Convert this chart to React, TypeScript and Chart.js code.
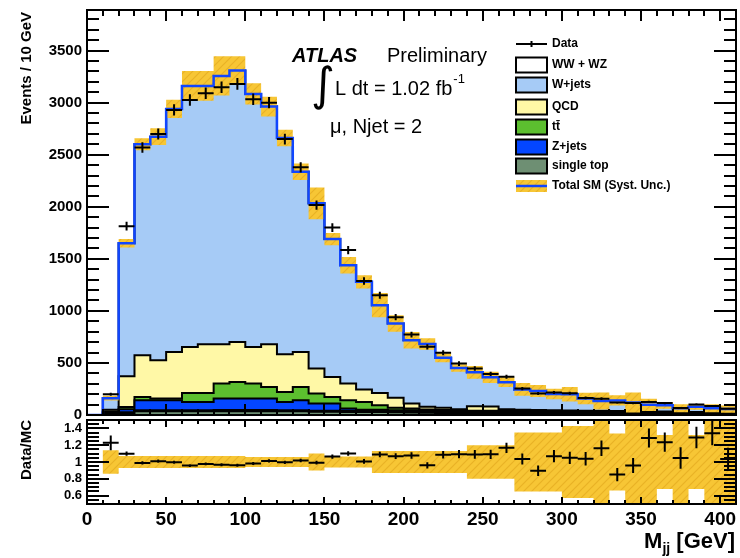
import React, { useEffect, useRef } from 'react';
import { Chart, registerables } from 'chart.js';

Chart.register(...registerables);

// ---------------- data ----------------
const binLowEdges = [0, 10, 20, 30, 40, 50, 60, 70, 80, 90, 100, 110, 120, 130, 140, 150, 160, 170, 180, 190, 200,
  210, 220, 230, 240, 250, 260, 270, 280, 290, 300, 310, 320, 330, 340, 350, 360, 370, 380, 390, 400];
const histUpperEdge = 410;
const binHalfWidth = 5;

const dataCounts: (number | null)[] = [null, 199, 1814, 2570, 2699, 2930, 3026, 3090, 3148, 3180, 3033, 3000, 2650, 2379,
  2016, 1800, 1584, 1288, 1150, 940, 773, 655, 598, 494, 447, 395, 368, 254, 207, 216, 209, 164, 157, 119, 115, 126,
  115, 67, 102, 86, 59];

const singleTop = [0, 8, 12, 35, 35, 35, 35, 35, 35, 35, 35, 35, 35, 35, 32, 32, 30, 28, 28, 26, 25, 22, 20, 20, 18, 18,
  16, 15, 15, 14, 14, 13, 12, 12, 11, 10, 10, 9, 9, 8, 8];
const wwwz = [0, 10, 15, 10, 10, 10, 10, 10, 12, 12, 12, 12, 10, 10, 10, 10, 10, 10, 10, 10, 10, 10, 10, 10, 10, 10, 10,
  10, 10, 10, 10, 10, 10, 10, 10, 9, 9, 8, 8, 8, 7];
const zjets = [0, 10, 28, 96, 96, 96, 80, 80, 111, 111, 111, 111, 80, 96, 68, 68, 22, 12, 12, 10, 10, 8, 8, 6, 6, 6, 6,
  5, 5, 5, 5, 4, 4, 4, 4, 4, 3, 3, 3, 3, 3];
const ttbar = [0, 5, 22, 32, 17, 17, 87, 87, 144, 159, 144, 111, 96, 128, 96, 63, 79, 75, 43, 24, 17, 12, 10, 8, 8, 8, 8,
  8, 7, 7, 6, 6, 6, 5, 5, 5, 5, 4, 4, 4, 4];
const qcd = [0, 17, 295, 401, 368, 448, 442, 468, 378, 385, 352, 411, 363, 337, 240, 192, 161, 119, 119, 95, 48, 28, 22,
  11, 43, 40, 15, 12, 10, 9, 9, 8, 8, 8, 7, 6, 6, 5, 5, 5, 5];
const wjets = [0, 112, 1278, 2026, 2147, 2334, 2507, 2481, 2577, 2606, 2430, 2282, 2076, 1731, 1587, 1325, 1137, 1035,
  843, 714, 608, 602, 480, 397, 325, 280, 260, 195, 184, 157, 155, 117, 95, 101, 83, 64, 60, 35, 50, 36, 30];

const systMainRel = [0, 0.14, 0.025, 0.022, 0.03, 0.03, 0.045, 0.045, 0.058, 0.042, 0.033, 0.032, 0.03, 0.034, 0.075,
  0.035, 0.055, 0.05, 0.11, 0.09, 0.11, 0.08, 0.08, 0.08, 0.15, 0.15, 0.15, 0.25, 0.25, 0.25, 0.35, 0.35, 0.6, 0.35,
  0.8, 0.6, 0.35, 0.6, 0.35, 0.6, 0.6];
const systRatioRel = [0, 0.14, 0.07, 0.07, 0.07, 0.07, 0.07, 0.07, 0.07, 0.07, 0.06, 0.06, 0.06, 0.06, 0.1, 0.065, 0.065,
  0.065, 0.13, 0.13, 0.13, 0.13, 0.13, 0.13, 0.2, 0.2, 0.2, 0.35, 0.35, 0.35, 0.43, 0.43, 0.6, 0.34, 0.6, 0.6, 0.32,
  0.6, 0.32, 0.6, 0.6];

const yMainTickValues = [0, 500, 1000, 1500, 2000, 2500, 3000, 3500];
const yRatioTickValues = [0.6, 0.8, 1, 1.2, 1.4];
const yRatioTickLabels = ['0.6', '0.8', '1', '1.2', '1.4'];
const xTickValues = [0, 50, 100, 150, 200, 250, 300, 350, 400];

const legendLabels = ['Data', 'WW + WZ', 'W+jets', 'QCD', 'tt\u0304', 'Z+jets', 'single top', 'Total SM (Syst. Unc.)'];

// ---------------- styles ----------------
const FONT = '"Liberation Sans", Arial, Helvetica, sans-serif';
const C_SINGLE = '#6e8f73';
const C_WW = '#ffffff';
const C_Z = '#0446ff';
const C_TT = '#5cbf2f';
const C_QCD = '#fff8a6';
const C_W = '#a6cbf6';
const C_TOTAL = '#1046ff';
const C_BAND = '#f7c635';
const C_HATCH = '#e9b226';

// ---------------- derived ----------------
const layers = [singleTop, wwwz, zjets, ttbar, qcd, wjets];
const cumulative: number[][] = [];
{
  let run = binLowEdges.map(() => 0);
  for (const l of layers) {
    run = run.map((r, i) => r + l[i]);
    cumulative.push(run);
  }
}
const totalMC = cumulative[cumulative.length - 1];

function stepPoints(vals: number[]) {
  const pts = vals.map((v, i) => ({ x: binLowEdges[i], y: v }));
  pts.push({ x: histUpperEdge, y: vals[vals.length - 1] });
  return pts;
}

const dataPoints = dataCounts
  .map((d, i) => (d == null ? null : { x: binLowEdges[i] + binHalfWidth, y: d, err: Math.sqrt(d) }))
  .filter((p) => p !== null) as { x: number; y: number; err: number }[];

const ratioPoints = dataCounts
  .map((d, i) =>
    d == null || totalMC[i] <= 0
      ? null
      : { x: binLowEdges[i] + binHalfWidth, y: d / totalMC[i], err: Math.sqrt(d) / totalMC[i] })
  .filter((p) => p !== null) as { x: number; y: number; err: number }[];

function makeHatch(): CanvasPattern | string {
  const c = document.createElement('canvas');
  c.width = 8;
  c.height = 8;
  const g = c.getContext('2d');
  if (!g) return C_BAND;
  g.fillStyle = C_BAND;
  g.fillRect(0, 0, 8, 8);
  g.strokeStyle = C_HATCH;
  g.lineWidth = 1.2;
  g.beginPath();
  g.moveTo(0, 8);
  g.lineTo(8, 0);
  g.moveTo(-4, 4);
  g.lineTo(4, -4);
  g.moveTo(4, 12);
  g.lineTo(12, 4);
  g.stroke();
  const p = g.createPattern(c, 'repeat');
  return p || C_BAND;
}

function zeroPad(s: any) {
  s.paddingTop = 0;
  s.paddingBottom = 0;
  s.paddingLeft = 0;
  s.paddingRight = 0;
}

// ---------------- plugins ----------------
type FrameCfg = {
  xMajor: number[]; xMinorStep: number; xMajorLen: number; xMinorLen: number;
  yMajor: number[]; yMinorStep: number; yMinorFrom: number; yMinorTo: number; yMajorLen: number; yMinorLen: number;
};

function framePlugin(id: string, cfg: FrameCfg) {
  return {
    id,
    afterDraw(chart: any) {
      const { ctx, chartArea: a, scales } = chart;
      const xs = scales.x;
      const ys = scales.y;
      ctx.save();
      ctx.strokeStyle = '#000';
      ctx.lineWidth = 2;
      ctx.beginPath();
      for (let v = xs.min; v <= xs.max + 1e-9; v += cfg.xMinorStep) {
        const major = cfg.xMajor.some((m) => Math.abs(m - v) < 1e-6);
        const len = major ? cfg.xMajorLen : cfg.xMinorLen;
        const px = Math.round(xs.getPixelForValue(v));
        if (px <= a.left + 1 || px >= a.right - 1) continue;
        ctx.moveTo(px, a.bottom);
        ctx.lineTo(px, a.bottom - len);
        ctx.moveTo(px, a.top);
        ctx.lineTo(px, a.top + len);
      }
      for (let v = cfg.yMinorFrom; v <= cfg.yMinorTo + 1e-9; v += cfg.yMinorStep) {
        const major = cfg.yMajor.some((m) => Math.abs(m - v) < 1e-6);
        const len = major ? cfg.yMajorLen : cfg.yMinorLen;
        const py = Math.round(ys.getPixelForValue(v));
        if (py <= a.top + 1 || py >= a.bottom - 1) continue;
        ctx.moveTo(a.left, py);
        ctx.lineTo(a.left + len, py);
        ctx.moveTo(a.right, py);
        ctx.lineTo(a.right - len, py);
      }
      ctx.stroke();
      ctx.lineWidth = 2;
      ctx.strokeRect(a.left, a.top, a.right - a.left, a.bottom - a.top);
      ctx.restore();
    },
  };
}

const errorBarPlugin = {
  id: 'errorBars',
  afterDatasetsDraw(chart: any) {
    const { ctx, chartArea: a, scales } = chart;
    const xs = scales.x;
    const ys = scales.y;
    chart.data.datasets.forEach((ds: any) => {
      if (!ds.isDataPoints) return;
      ctx.save();
      ctx.beginPath();
      ctx.rect(a.left, a.top, a.right - a.left, a.bottom - a.top);
      ctx.clip();
      ctx.strokeStyle = '#000';
      ctx.lineWidth = 2;
      ctx.beginPath();
      ds.data.forEach((p: any) => {
        const px = xs.getPixelForValue(p.x);
        const py = ys.getPixelForValue(p.y);
        ctx.moveTo(xs.getPixelForValue(p.x - binHalfWidth), py);
        ctx.lineTo(xs.getPixelForValue(p.x + binHalfWidth), py);
        ctx.moveTo(px, ys.getPixelForValue(p.y - p.err));
        ctx.lineTo(px, ys.getPixelForValue(p.y + p.err));
      });
      ctx.stroke();
      ctx.restore();
    });
  },
};

const mainDecorPlugin = {
  id: 'mainDecor',
  afterDraw(chart: any) {
    const { ctx, chartArea: a } = chart;
    ctx.save();
    ctx.fillStyle = '#000';
    ctx.save();
    ctx.translate(27, a.top + 2);
    ctx.rotate(-Math.PI / 2);
    ctx.textAlign = 'right';
    ctx.textBaseline = 'middle';
    ctx.font = `bold 15px ${FONT}`;
    ctx.fillText('Events / 10 GeV', 0, 0);
    ctx.restore();

    ctx.textAlign = 'left';
    ctx.textBaseline = 'alphabetic';
    ctx.font = `italic bold 20px ${FONT}`;
    ctx.fillText('ATLAS', 292, 62);
    ctx.font = `20px ${FONT}`;
    ctx.fillText('Preliminary', 387, 62);
    ctx.font = `46px "DejaVu Sans", ${FONT}`;
    ctx.fillText('\u222B', 311, 100);
    ctx.font = `20px ${FONT}`;
    const lumi = 'L dt = 1.02 fb';
    ctx.fillText(lumi, 335, 95);
    const lw = ctx.measureText(lumi).width;
    ctx.font = `13px ${FONT}`;
    ctx.fillText('-1', 335 + lw + 1, 83);
    ctx.font = `20px ${FONT}`;
    ctx.fillText('\u03BC, Njet = 2', 330, 133);

    const ys = [44, 65, 85, 107, 127, 147, 166, 186];
    const bx = 516;
    const bw = 31;
    const fills = [null, C_WW, C_W, C_QCD, C_TT, C_Z, C_SINGLE];
    ctx.lineWidth = 2;
    ctx.strokeStyle = '#000';
    ctx.beginPath();
    ctx.moveTo(bx, ys[0]);
    ctx.lineTo(bx + bw, ys[0]);
    ctx.moveTo(bx + bw / 2, ys[0] - 3);
    ctx.lineTo(bx + bw / 2, ys[0] + 3);
    ctx.stroke();
    for (let i = 1; i <= 6; i++) {
      ctx.fillStyle = fills[i] as string;
      ctx.fillRect(bx, ys[i] - 7.5, bw, 15);
      ctx.strokeRect(bx, ys[i] - 7.5, bw, 15);
    }
    ctx.fillStyle = (chart as any).$hatch || C_BAND;
    ctx.fillRect(bx, ys[7] - 6, bw, 12);
    ctx.strokeStyle = C_TOTAL;
    ctx.lineWidth = 2.5;
    ctx.beginPath();
    ctx.moveTo(bx, ys[7]);
    ctx.lineTo(bx + bw, ys[7]);
    ctx.stroke();

    ctx.fillStyle = '#000';
    ctx.font = `bold 12px ${FONT}`;
    ctx.textBaseline = 'middle';
    legendLabels.forEach((t, i) => ctx.fillText(t, 552, ys[i]));
    ctx.restore();
  },
};

const ratioDecorPlugin = {
  id: 'ratioDecor',
  afterDraw(chart: any) {
    const { ctx, chartArea: a } = chart;
    ctx.save();
    ctx.fillStyle = '#000';
    ctx.save();
    ctx.translate(27, a.top);
    ctx.rotate(-Math.PI / 2);
    ctx.textAlign = 'right';
    ctx.textBaseline = 'middle';
    ctx.font = `bold 15px ${FONT}`;
    ctx.fillText('Data/MC', 0, 0);
    ctx.restore();

    const base = 133;
    const right = 735;
    ctx.textBaseline = 'alphabetic';
    ctx.textAlign = 'left';
    ctx.font = `bold 22px ${FONT}`;
    const wG = ctx.measureText(' [GeV]').width;
    const wM = ctx.measureText('M').width;
    ctx.font = `bold 14px ${FONT}`;
    const wj = ctx.measureText('jj').width;
    let x = right - wG - wj - wM;
    ctx.font = `bold 22px ${FONT}`;
    ctx.fillText('M', x, base);
    x += wM;
    ctx.font = `bold 14px ${FONT}`;
    ctx.fillText('jj', x, base + 5);
    x += wj;
    ctx.font = `bold 22px ${FONT}`;
    ctx.fillText(' [GeV]', x, base);
    ctx.restore();
  },
};

// ---------------- component ----------------
export default function App() {
  const mainRef = useRef<HTMLCanvasElement | null>(null);
  const ratioRef = useRef<HTMLCanvasElement | null>(null);

  useEffect(() => {
    if (!mainRef.current || !ratioRef.current) return;
    const hatch = makeHatch();

    const layerStyles = [
      { label: 'single top', color: C_SINGLE },
      { label: 'WW + WZ', color: C_WW },
      { label: 'Z+jets', color: C_Z },
      { label: 'tt', color: C_TT },
      { label: 'QCD', color: C_QCD },
      { label: 'W+jets', color: C_W },
    ];
    const layerDatasets = cumulative.map((cum, k) => ({
      label: layerStyles[k].label,
      data: stepPoints(cum),
      stepped: true,
      borderColor: '#000',
      borderWidth: 2,
      backgroundColor: layerStyles[k].color,
      fill: k === 0 ? 'origin' : 4 + k - 1,
      pointRadius: 0,
      order: 5 + k,
    }));

    const mainChart = new Chart(mainRef.current, {
      type: 'line',
      data: {
        datasets: [
          {
            label: 'Data',
            data: dataPoints,
            showLine: false,
            pointRadius: 0,
            borderColor: '#000',
            order: 0,
            isDataPoints: true,
          } as any,
          {
            label: 'Total SM',
            data: stepPoints(totalMC),
            stepped: true,
            borderColor: C_TOTAL,
            borderWidth: 2.5,
            fill: false,
            pointRadius: 0,
            order: 1,
          },
          {
            label: 'band up',
            data: stepPoints(totalMC.map((t, i) => t * (1 + systMainRel[i]))),
            stepped: true,
            borderColor: 'rgba(0,0,0,0)',
            borderWidth: 0,
            backgroundColor: hatch as any,
            fill: 3,
            pointRadius: 0,
            order: 2,
          },
          {
            label: 'band low',
            data: stepPoints(totalMC.map((t, i) => t * (1 - systMainRel[i]))),
            stepped: true,
            borderColor: 'rgba(0,0,0,0)',
            borderWidth: 0,
            fill: false,
            pointRadius: 0,
            order: 3,
          },
          ...(layerDatasets as any[]),
        ],
      },
      options: {
        animation: false,
        responsive: false,
        maintainAspectRatio: false,
        devicePixelRatio: 1,
        layout: { padding: { top: 10, right: 4, bottom: 5, left: 0 } },
        plugins: { legend: { display: false }, tooltip: { enabled: false } },
        scales: {
          x: { type: 'linear', min: 0, max: histUpperEdge, display: false },
          y: {
            type: 'linear',
            min: 0,
            max: 3890,
            afterBuildTicks: (s: any) => {
              s.ticks = yMainTickValues.map((v) => ({ value: v }));
            },
            afterFit: (s: any) => {
              s.width = 87;
              zeroPad(s);
            },
            grid: { display: false, drawTicks: false },
            border: { display: false },
            ticks: {
              color: '#000',
              padding: 5,
              font: { family: FONT, size: 15, weight: 'bold' },
              callback: (v: any) => String(v),
            },
          },
        },
      } as any,
      plugins: [
        errorBarPlugin,
        framePlugin('mainFrame', {
          xMajor: xTickValues, xMinorStep: 10, xMajorLen: 11, xMinorLen: 6,
          yMajor: yMainTickValues, yMinorStep: 100, yMinorFrom: 0, yMinorTo: 3800, yMajorLen: 22, yMinorLen: 12,
        }),
        mainDecorPlugin,
      ],
    });
    (mainChart as any).$hatch = hatch;
    mainChart.draw();

    const ratioChart = new Chart(ratioRef.current, {
      type: 'line',
      data: {
        datasets: [
          {
            label: 'Data/MC',
            data: ratioPoints,
            showLine: false,
            pointRadius: 0,
            borderColor: '#000',
            order: 0,
            isDataPoints: true,
          } as any,
          {
            label: 'band up',
            data: stepPoints(totalMC.map((t, i) => (t > 0 ? 1 + systRatioRel[i] : 1))),
            stepped: true,
            borderColor: 'rgba(0,0,0,0)',
            borderWidth: 0,
            backgroundColor: hatch as any,
            fill: 2,
            pointRadius: 0,
            order: 1,
          },
          {
            label: 'band low',
            data: stepPoints(totalMC.map((t, i) => (t > 0 ? 1 - systRatioRel[i] : 1))),
            stepped: true,
            borderColor: 'rgba(0,0,0,0)',
            borderWidth: 0,
            fill: false,
            pointRadius: 0,
            order: 2,
          },
        ],
      },
      options: {
        animation: false,
        responsive: false,
        maintainAspectRatio: false,
        devicePixelRatio: 1,
        layout: { padding: { top: 5, right: 4, bottom: 0, left: 0 } },
        plugins: { legend: { display: false }, tooltip: { enabled: false } },
        scales: {
          x: {
            type: 'linear',
            min: 0,
            max: histUpperEdge,
            afterBuildTicks: (s: any) => {
              s.ticks = xTickValues.map((v) => ({ value: v }));
            },
            afterFit: (s: any) => {
              s.height = 54;
              zeroPad(s);
            },
            grid: { display: false, drawTicks: false },
            border: { display: false },
            ticks: {
              color: '#000',
              padding: 4,
              maxRotation: 0,
              autoSkip: false,
              font: { family: FONT, size: 19, weight: 'bold' },
              callback: (v: any) => String(v),
            },
          },
          y: {
            type: 'linear',
            min: 0.5,
            max: 1.5,
            afterBuildTicks: (s: any) => {
              s.ticks = yRatioTickValues.map((v) => ({ value: v }));
            },
            afterFit: (s: any) => {
              s.width = 87;
              zeroPad(s);
            },
            grid: { display: false, drawTicks: false },
            border: { display: false },
            ticks: {
              color: '#000',
              padding: 5,
              font: { family: FONT, size: 13, weight: 'bold' },
              callback: (_v: any, i: number) => yRatioTickLabels[i],
            },
          },
        },
      } as any,
      plugins: [
        errorBarPlugin,
        framePlugin('ratioFrame', {
          xMajor: xTickValues, xMinorStep: 10, xMajorLen: 7, xMinorLen: 4,
          yMajor: yRatioTickValues, yMinorStep: 0.05, yMinorFrom: 0.5, yMinorTo: 1.5, yMajorLen: 22, yMinorLen: 12,
        }),
        ratioDecorPlugin,
      ],
    });

    return () => {
      mainChart.destroy();
      ratioChart.destroy();
    };
  }, []);

  return (
    <div style={{ position: 'fixed', left: 0, top: 0, width: 740, height: 558, background: '#fff' }}>
      <canvas
        ref={mainRef}
        width={740}
        height={420}
        style={{ position: 'absolute', left: 0, top: 0, width: 740, height: 420 }}
      />
      <canvas
        ref={ratioRef}
        width={740}
        height={143}
        style={{ position: 'absolute', left: 0, top: 415, width: 740, height: 143 }}
      />
    </div>
  );
}
